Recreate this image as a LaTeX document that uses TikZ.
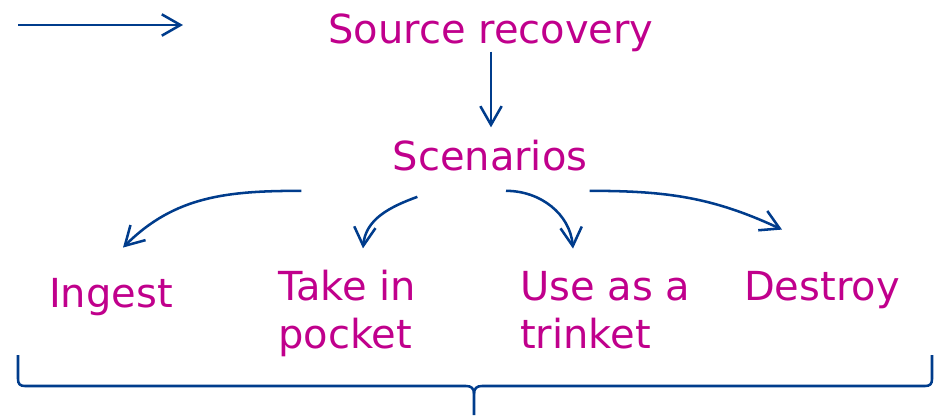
\documentclass[tikz,border=0pt]{standalone}
\usepackage{fontspec}
\setmainfont{DejaVu Sans}
\usetikzlibrary{arrows.meta}

\definecolor{labelpink}{RGB}{192,0,140}
\definecolor{arrowblue}{RGB}{0,60,140}

\tikzset{
  lbl/.style={text=labelpink, font=\fontsize{30}{36}\selectfont, inner sep=0pt},
  arr/.style={arrowblue, line width=1.9pt, -{Straight Barb[length=14pt,width=16pt]}},
  bracket/.style={arrowblue, line width=1.9pt}
}

\begin{document}
\begin{tikzpicture}

\begin{scope}[x=0.75pt,y=-0.75pt]

\useasboundingbox (0,0) rectangle (942,415);

\node[lbl, anchor=base] (src) at (491,43) {Source recovery};
\node[lbl, anchor=base] (scen) at (490,170) {Scenarios};

\node[lbl, anchor=base] (ingest) at (111,307) {Ingest};
\node[lbl, anchor=base west, align=left] (pocket) at (278,348) {Take in\\pocket};
\node[lbl, anchor=base west, align=left] (trinket) at (520,348) {Use as a\\trinket};
\node[lbl, anchor=base] (destroy) at (822,300) {Destroy};

\coordinate (tail) at (18,25);
\coordinate (head) at (183,25);
\draw[arr] (tail) -- (head);

\draw[arr, shorten >=9pt] (src.south) -- (src.south |- scen.north);

\draw[arr] ([shift={(-91,20)}]scen.south west) to[out=180,in=45] ([shift={(12,-30)}]ingest.north);
\draw[arr] ([shift={(25,26)}]scen.south west) to[out=200,in=85] ([shift={(85,-21)}]pocket.north west);
\draw[arr] ([shift={(16,20)}]scen.south) to[out=0,in=95] ([shift={(53,-22)}]trinket.north west);
\draw[arr] ([shift={(2,20)}]scen.south east) to[out=0,in=155] ([shift={(-40,-41)}]destroy.north);

\draw[bracket] (18,355) -- (18,379) .. controls (18,384) and (20,386) .. (25,386) -- (466,386)
  .. controls (471,386) and (474,388) .. (474,394) -- (474,415);
\draw[bracket] (932,355) -- (932,379) .. controls (932,384) and (930,386) .. (925,386) -- (482,386)
  .. controls (477,386) and (474,388) .. (474,394);

\end{scope}

\end{tikzpicture}
\end{document}
